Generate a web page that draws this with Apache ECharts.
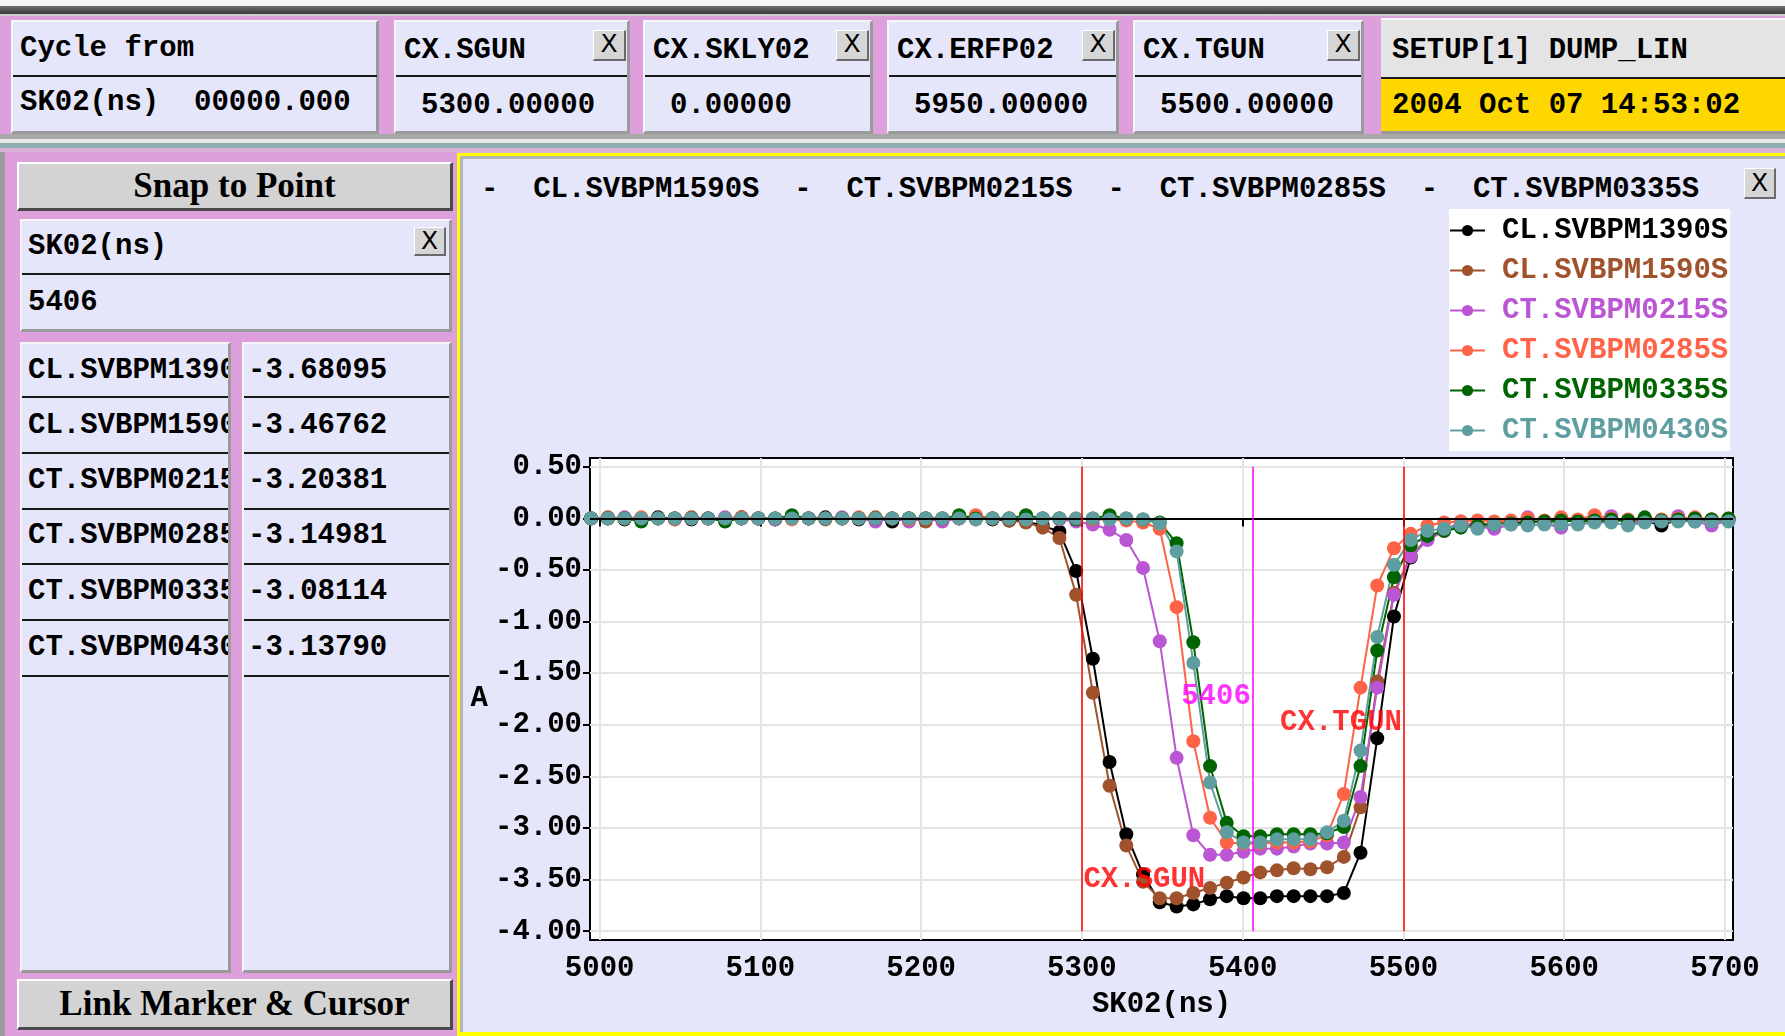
<!DOCTYPE html>
<html><head><meta charset="utf-8">
<script src="https://cdn.jsdelivr.net/npm/echarts@6/dist/echarts.min.js"></script>
<style>
html,body{margin:0;padding:0;width:1785px;height:1036px;overflow:hidden;background:#f2f2f2;}
.abs{position:absolute;box-sizing:border-box;}
.m{position:absolute;font-family:'Liberation Mono',monospace;font-weight:bold;font-size:29px;line-height:29px;white-space:pre;color:#000;}
.cell{position:absolute;box-sizing:border-box;background:#e6e6fa;border-top:2px solid #f6f6f6;border-left:2px solid #f6f6f6;border-right:3px solid #9a9a9a;border-bottom:3px solid #9a9a9a;overflow:hidden;}
.sep{position:absolute;height:2px;background:#1a1a1a;}
.xb{position:absolute;box-sizing:border-box;background:#d6d6d6;border-top:1px solid #fff;border-left:1px solid #fff;border-right:2px solid #6a6a6a;border-bottom:2px solid #6a6a6a;font-family:'DejaVu Sans',sans-serif;font-size:25px;line-height:26px;text-align:center;color:#000;}
.btn{position:absolute;box-sizing:border-box;background:#d3d3d3;border-top:2px solid #fff;border-left:2px solid #fff;border-right:3px solid #4a4a4a;border-bottom:3px solid #4a4a4a;font-family:'Liberation Serif',serif;font-weight:bold;font-size:35px;text-align:center;color:#000;}
</style></head><body>
<div id="ui">
  <div class="abs" style="left:0;top:0;width:1785px;height:6px;background:#f6f6f6"></div>
  <div class="abs" style="left:0;top:6px;width:1785px;height:8px;background:linear-gradient(#707070,#3a3a3a)"></div>
  <div class="abs" style="left:0;top:14px;width:1785px;height:2px;background:#d0d0d0"></div>
  <div class="abs" style="left:0;top:16px;width:1785px;height:120px;background:#dda0dd"></div>

  <div class="cell" style="left:11px;top:20px;width:368px;height:114px"></div>
  <div class="sep" style="left:13px;top:75px;width:364px"></div>
  <div class="m" style="left:20px;top:34px">Cycle from</div>
  <div class="m" style="left:20px;top:88px">SK02(ns)  00000.000</div>
  <div id="topcells"></div>

  <div class="abs" style="left:1381px;top:18px;width:404px;height:59px;background:#e4e4e4;border-top:2px solid #f8f8f8"></div>
  <div class="abs" style="left:1381px;top:77px;width:404px;height:2px;background:#1a1a1a"></div>
  <div class="abs" style="left:1381px;top:79px;width:404px;height:52px;background:#ffd700"></div>
  <div class="abs" style="left:1381px;top:131px;width:404px;height:3px;background:#9a9a9a"></div>
  <div class="m" style="left:1392px;top:36px">SETUP[1] DUMP_LIN</div>
  <div class="m" style="left:1392px;top:91px">2004 Oct 07 14:53:02</div>

  <div class="abs" style="left:0;top:134px;width:1785px;height:5px;background:#a8a8a8"></div>
  <div class="abs" style="left:0;top:139px;width:1785px;height:4px;background:#e4e8e8"></div>
  <div class="abs" style="left:0;top:143px;width:1785px;height:5px;background:#8fafaf"></div>
  <div class="abs" style="left:0;top:148px;width:1785px;height:5px;background:#d8b4d8"></div>

  <div class="abs" style="left:0;top:152px;width:5px;height:884px;background:#9c9c9c"></div>
  <div class="abs" style="left:5px;top:152px;width:453px;height:884px;background:#dda0dd"></div>
  <div class="btn" style="left:17px;top:162px;width:436px;height:49px;line-height:43px">Snap to Point</div>
  <div class="cell" style="left:20px;top:219px;width:432px;height:113px"></div>
  <div class="sep" style="left:22px;top:273px;width:428px"></div>
  <div class="m" style="left:28px;top:232px">SK02(ns)</div>
  <div class="m" style="left:28px;top:288px">5406</div>
  <div class="xb" style="left:414px;top:227px;width:32px;height:29px">X</div>
  <div class="cell" id="colL" style="left:20px;top:342px;width:211px;height:631px"></div>
  <div class="cell" id="colR" style="left:242px;top:342px;width:210px;height:631px"></div>
  <div class="btn" style="left:17px;top:979px;width:436px;height:51px;line-height:46px">Link Marker &amp; Cursor</div>

  <div class="abs" style="left:457px;top:153px;width:1328px;height:883px;background:#e6e6fa;border-left:3px solid #ffff00;border-top:3px solid #ffff00;border-bottom:4px solid #ffff00;box-shadow:inset 3px 3px 0 #b4b4b4"></div>
  <div class="m" id="titleRow" style="left:481px;top:175px"></div>
  <div class="xb" style="left:1744px;top:168px;width:32px;height:31px;line-height:28px">X</div>
</div>
<div id="chart" style="position:absolute;left:0;top:0;width:1785px;height:1036px;z-index:5"></div>
<script>
// ---------- data ----------
const seriesNames = ['CL.SVBPM1390S','CL.SVBPM1590S','CT.SVBPM0215S','CT.SVBPM0285S','CT.SVBPM0335S','CT.SVBPM0430S'];
const seriesColors = ['#000000','#a0522d','#ba55d3','#ff6347','#006400','#5f9ea0'];
const cursorValues = ['-3.68095','-3.46762','-3.20381','-3.14981','-3.08114','-3.13790'];
const titleRowNames = ['CL.SVBPM1590S','CT.SVBPM0215S','CT.SVBPM0285S','CT.SVBPM0335S'];
const topCellLabels = ['CX.SGUN','CX.SKLY02','CX.ERFP02','CX.TGUN'];
const topCellValues = ['5300.00000','0.00000','5950.00000','5500.00000'];

const sampleTimes = [4994.7,5005.1,5015.5,5025.9,5036.3,5046.7,5057.1,5067.5,5078.0,5088.3,
5098.7,5109.2,5119.6,5130.0,5140.4,5150.8,5161.2,5171.6,5182.0,5192.4,
5202.8,5213.2,5223.6,5234.0,5244.4,5254.8,5265.2,5275.6,5286.0,5296.4,
5306.8,5317.2,5327.6,5338.0,5348.4,5358.9,5369.3,5379.7,5390.1,5400.5,
5410.9,5421.3,5431.7,5442.1,5452.5,5462.9,5473.3,5483.7,5494.1,5504.5,
5514.9,5525.3,5535.7,5546.1,5556.5,5566.9,5577.3,5587.7,5598.1,5608.5,
5618.9,5629.3,5639.7,5650.1,5660.5,5670.9,5681.3,5691.7,5702.2];

const svbpm1390 = [0.00,0.00,-0.01,0.00,0.01,0.00,-0.01,0.00,0.00,0.01,
0.00,-0.01,0.00,0.00,0.01,0.00,-0.01,0.00,-0.03,0.00,
0.00,-0.01,0.00,0.00,-0.01,-0.02,-0.03,-0.07,-0.13,-0.51,
-1.36,-2.36,-3.06,-3.45,-3.72,-3.76,-3.74,-3.69,-3.66,-3.68,
-3.68,-3.66,-3.66,-3.66,-3.66,-3.63,-3.24,-2.13,-0.95,-0.38,
-0.20,-0.12,-0.08,-0.06,-0.05,-0.04,-0.04,-0.03,-0.03,-0.02,
-0.03,-0.02,-0.02,-0.02,-0.07,-0.01,-0.02,-0.01,-0.01];
const svbpm1590 = [0.00,0.01,0.00,-0.01,0.00,0.00,0.01,0.00,-0.01,0.00,
0.00,0.00,0.01,0.00,-0.01,0.00,0.00,0.01,0.00,0.00,
-0.03,0.00,0.00,-0.01,0.00,-0.02,-0.04,-0.09,-0.19,-0.74,
-1.69,-2.59,-3.17,-3.52,-3.68,-3.68,-3.63,-3.58,-3.53,-3.48,
-3.43,-3.41,-3.39,-3.40,-3.38,-3.28,-2.80,-1.58,-0.72,-0.36,
-0.20,-0.12,-0.08,-0.06,-0.05,-0.04,-0.03,-0.03,-0.02,-0.03,
-0.02,-0.02,-0.02,-0.01,-0.02,-0.01,-0.01,-0.02,-0.01];
const svbpm0215 = [0.00,0.00,0.01,0.00,0.00,-0.01,0.00,0.00,0.01,0.00,
0.00,-0.01,0.00,0.00,0.00,0.01,0.00,-0.03,0.00,-0.03,
0.00,-0.03,0.00,0.01,0.00,0.00,-0.01,0.00,-0.01,-0.03,
-0.06,-0.11,-0.21,-0.48,-1.19,-2.32,-3.07,-3.26,-3.26,-3.23,
-3.20,-3.20,-3.18,-3.15,-3.15,-3.14,-2.70,-1.64,-0.74,-0.37,
-0.21,-0.12,-0.03,-0.08,-0.10,-0.06,0.01,-0.05,-0.09,-0.04,
-0.02,0.02,-0.04,-0.03,-0.02,0.02,-0.03,-0.07,-0.02];
const svbpm0285 = [0.00,0.00,0.00,0.01,0.00,-0.01,0.00,0.00,0.00,0.01,
0.00,0.00,-0.01,0.00,0.00,0.00,0.01,0.00,0.00,-0.01,
0.00,0.00,0.00,0.03,0.00,0.00,-0.01,0.00,0.00,0.00,
-0.01,-0.01,-0.02,-0.04,-0.10,-0.86,-2.16,-2.90,-3.14,-3.15,
-3.15,-3.14,-3.14,-3.13,-3.07,-2.67,-1.64,-0.65,-0.29,-0.15,
-0.07,-0.04,-0.03,-0.02,-0.03,-0.02,0.00,-0.02,0.01,-0.01,
0.03,0.00,-0.01,0.00,-0.01,0.00,0.01,-0.01,0.00];
const svbpm0335 = [0.00,0.00,0.00,-0.03,0.00,0.00,0.00,0.00,-0.03,0.00,
0.00,0.00,0.03,0.00,0.00,0.00,0.00,0.00,0.00,0.00,
0.00,0.00,0.03,0.00,0.00,0.00,0.03,0.00,0.00,-0.01,
0.00,0.03,0.00,-0.01,-0.04,-0.24,-1.20,-2.40,-2.95,-3.08,
-3.08,-3.06,-3.06,-3.06,-3.05,-2.99,-2.40,-1.28,-0.57,-0.26,
-0.17,-0.12,-0.09,-0.07,-0.06,-0.05,-0.04,-0.03,-0.02,-0.03,
-0.02,-0.01,-0.02,0.01,-0.02,-0.01,0.00,-0.01,0.00];
const svbpm0430 = [0.00,0.00,0.00,0.00,0.00,0.00,0.00,0.00,0.00,0.00,
0.00,0.00,0.00,0.00,0.00,0.00,0.00,0.00,0.00,0.00,
0.00,0.00,0.00,-0.01,0.00,0.00,-0.01,0.00,0.00,0.00,
0.00,-0.01,0.00,-0.01,-0.05,-0.32,-1.40,-2.56,-3.04,-3.14,
-3.14,-3.11,-3.11,-3.11,-3.04,-2.93,-2.25,-1.15,-0.45,-0.21,
-0.12,-0.10,-0.07,-0.10,-0.06,-0.06,-0.07,-0.06,-0.06,-0.06,
-0.04,-0.04,-0.07,-0.04,-0.03,-0.03,-0.03,-0.03,-0.03];
const seriesValues = [svbpm1390, svbpm1590, svbpm0215, svbpm0285, svbpm0335, svbpm0430];

const xTicks = [5000,5100,5200,5300,5400,5500,5600,5700];
const yTicks = [0.5,0,-0.5,-1,-1.5,-2,-2.5,-3,-3.5,-4];
const markerLines = [ {x:5300, color:'#ff0000'}, {x:5406, color:'#ff00ff'}, {x:5500, color:'#ff0000'} ];
const markerSpan = [0.5, -4.0];
const annotations = [
  {text:'CX.SGUN', x:5300, y:-3.50, color:'#ff0000', side:'right'},
  {text:'CX.TGUN', x:5500, y:-1.98, color:'#ff0000', side:'left'},
  {text:'5406',    x:5406, y:-1.73, color:'#ff00ff', side:'left'}
];

// ---------- UI panels ----------
const cellBoxes = [ {x:394,w:236}, {x:643,w:230}, {x:887,w:232}, {x:1133,w:231} ];
const tc = document.getElementById('topcells');
topCellLabels.forEach((lab,i)=>{
  const b = cellBoxes[i];
  tc.insertAdjacentHTML('beforeend',
    `<div class="cell" style="left:${b.x}px;top:20px;width:${b.w}px;height:114px"></div>`+
    `<div class="sep" style="left:${b.x+2}px;top:75px;width:${b.w-5}px"></div>`+
    `<div class="m" style="left:${b.x+10}px;top:36px">${lab}</div>`+
    `<div class="m" style="left:${b.x+27}px;top:91px">${topCellValues[i]}</div>`+
    `<div class="xb" style="left:${b.x+b.w-37}px;top:30px;width:33px;height:31px">X</div>`);
});
const rowText = [370,425,480,535,591,647];
const rowSep = [396,452,508,563,619,675];
const colL = document.getElementById('colL'), colR = document.getElementById('colR');
seriesNames.forEach((n,i)=>{
  colL.insertAdjacentHTML('beforeend',
    `<div class="m" style="left:6px;top:${rowText[i]-14-344}px">${n}</div><div class="sep" style="left:0;top:${rowSep[i]-344}px;width:206px"></div>`);
  colR.insertAdjacentHTML('beforeend',
    `<div class="m" style="left:4px;top:${rowText[i]-14-344}px">${cursorValues[i]}</div><div class="sep" style="left:0;top:${rowSep[i]-344}px;width:205px"></div>`);
});
document.getElementById('titleRow').textContent = titleRowNames.map(n=>'-  '+n).join('  ');

// ---------- chart ----------
const MONO = "'Liberation Mono', monospace";
const txt = {fontFamily:MONO, fontWeight:'bold', fontSize:29, color:'#000'};
const chart = echarts.init(document.getElementById('chart'));
const dataSeries = seriesNames.map((n,i)=>({
  type:'line', name:n, z:3,
  data: sampleTimes.map((t,k)=>[t, seriesValues[i][k]]),
  symbol:'circle', symbolSize:14, showSymbol:true,
  lineStyle:{color:seriesColors[i], width:2},
  itemStyle:{color:seriesColors[i]},
  emphasis:{disabled:true}
}));
chart.setOption({
  backgroundColor:'transparent',
  animation:false,
  textStyle:txt,
  grid:{left:590, right:52, top:458, bottom:96, show:true, backgroundColor:'#ffffff', borderColor:'#000', borderWidth:2},
  legend:{
    left:1449, top:209, orient:'vertical', align:'left',
    backgroundColor:'#ffffff', padding:[7,2,6,0], itemGap:11, itemWidth:35, itemHeight:14,
    selectedMode:false,
    data: seriesNames.map((n,i)=>({name:n, textStyle:{color:seriesColors[i]}})),
    textStyle:{fontFamily:MONO, fontWeight:'bold', fontSize:29, padding:[0,0,0,12]}
  },
  xAxis:{
    type:'value', min:4994, max:5705,
    name:'SK02(ns)', nameLocation:'middle', nameGap:50, nameTextStyle:txt,
    axisLine:{show:false},
    axisTick:{show:true, customValues:xTicks, length:8, lineStyle:{color:'#000', width:2}},
    axisLabel:{customValues:xTicks, margin:14, ...txt, formatter:v=>String(Math.round(v))},
    splitLine:{show:true, lineStyle:{color:'#e4e4e4', width:2}}
  },
  yAxis:{
    type:'value', min:-4.085, max:0.585,
    name:'A', nameLocation:'middle', nameGap:102, nameRotate:0, nameTextStyle:txt,
    axisLine:{show:false},
    axisTick:{show:true, customValues:yTicks, length:7, lineStyle:{color:'#000', width:2}},
    axisLabel:{customValues:yTicks, margin:8, ...txt, formatter:v=>v.toFixed(2)},
    splitLine:{show:true, lineStyle:{color:'#e4e4e4', width:2}}
  },
  series:[
    {type:'scatter', name:'zeroLine', z:1, data:[], silent:true,
      markLine:{silent:true, symbol:['none','none'], label:{show:false}, animation:false,
        lineStyle:{color:'#000', width:2, type:'solid'}, data:[{yAxis:0}]}},
    ...dataSeries,
    {type:'scatter', name:'markers', z:10, silent:true, symbolSize:1,
      itemStyle:{color:'rgba(0,0,0,0)'},
      data: annotations.map(a=>({value:[a.x,a.y], label:{show:true, position:a.side, distance:1, formatter:a.text, fontFamily:MONO, fontWeight:'bold', fontSize:29, color:a.color}})),
      markLine:{silent:true, symbol:['none','none'], label:{show:false}, animation:false,
        data: markerLines.map(m=>[{coord:[m.x, markerSpan[0]], lineStyle:{color:m.color, width:1.5, type:'solid'}},{coord:[m.x, markerSpan[1]]}])}}
  ]
});
</script>
</body></html>
